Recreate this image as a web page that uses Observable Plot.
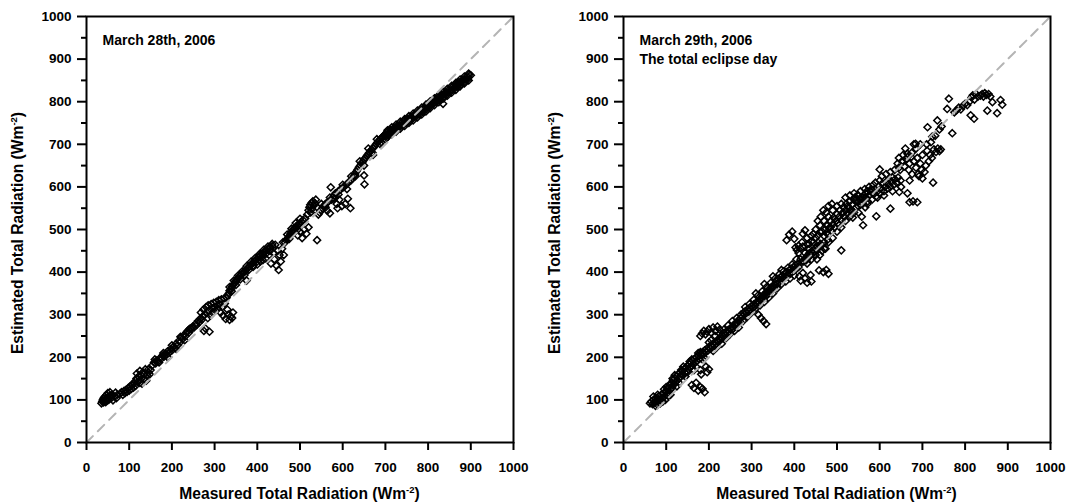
<!DOCTYPE html>
<html><head><meta charset="utf-8">
<script src="https://cdn.jsdelivr.net/npm/d3@7"></script>
<script src="https://cdn.jsdelivr.net/npm/@observablehq/plot@0.6"></script>
<style>
body{margin:0;background:#fff;}
#wrap{display:flex;width:1067px;height:503px;overflow:hidden;}
</style></head><body><div id="wrap"></div>
<script>
const xTicks = [0,100,200,300,400,500,600,700,800,900,1000];
const yTicks = [0,100,200,300,400,500,600,700,800,900,1000];
const yMinorTicks = [50,150,250,350,450,550,650,750,850,950];
const xLabel = "Measured Total Radiation (Wm";
const yLabel = "Estimated Total Radiation (Wm";
const unitSup = "-2";
const notes28 = ["March 28th, 2006"];
const notes29 = ["March 29th, 2006", "The total eclipse day"];
const oneToOne = [[0,0],[1000,1000]];

// March 28th, 2006 : [measured, estimated]
const march28 = [
[35,92],[37,96],[38,100],[40,94],[40,104],[42,98],[43,108],[45,95],[45,102],[47,112],[48,98],[50,105],[50,116],[52,100],[55,110],[55,118],[58,104],[60,112],[62,99],[65,108],[68,117],[70,104],[72,112],
[78,114],[82,118],[85,112],[88,121],[90,116],[93,124],[95,119],[98,128],[100,122],[102,131],[105,126],[108,135],[110,129],[112,140],[115,133],[117,150],[118,162],[120,142],[122,155],[125,168],[126,147],[128,158],[130,138],[132,165],[135,150],[138,172],[140,145],[142,158],[145,165],[148,160],[150,170],
[105,135],[115,145],[125,140],[135,160],[145,172],[160,195],[170,188],[180,210],[190,200],[200,228],[210,220],[220,248],[230,240],[240,265],
[155,182],[158,188],[162,186],[165,193],[168,190],[172,198],[175,196],[178,204],[182,202],[185,209],[188,206],[190,214],[195,212],[198,220],[200,216],[204,225],[207,222],[210,232],[213,228],[216,238],[220,236],[222,246],[225,243],[228,252],[231,249],[234,258],[237,262],[240,258],[243,268],
[246,266],[249,272],[252,270],[255,278],[258,276],[261,285],[264,282],[266,290],[268,305],[270,288],[272,296],[274,312],[275,262],[277,300],[278,268],[280,318],[282,305],[284,292],[285,322],[287,310],[288,260],[290,298],[292,325],[294,315],[296,304],[298,328],[300,318],[302,310],[304,330],[306,322],[308,314],[310,334],[312,325],[314,305],[316,336],[318,318],[320,298],[322,338],[324,326],[326,290],[328,340],[330,312],[332,300],[335,288],[338,296],[341,292],[343,305],
[330,345],[333,350],[335,356],[338,360],[340,365],[343,369],[345,372],[348,376],[350,380],[353,383],[355,386],[358,389],[360,392],[363,395],[366,398],
[335,365],[345,380],[355,392],[365,402],[375,414],[385,424],[395,433],[405,442],[415,452],[425,460],[435,466],[340,355],[350,370],[360,383],[370,393],[380,405],[390,415],[400,425],[410,434],[420,443],[430,450],
[370,400],[373,404],[375,380],[376,408],[379,411],[382,414],[385,417],[388,420],[390,412],[392,424],[395,427],[398,430],[400,418],[402,434],[405,437],[407,425],[408,440],[411,443],[413,428],[415,446],[418,449],[420,432],[422,452],[425,455],[428,440],[430,458],[432,420],[435,461],[438,445],[440,430],[442,464],[445,415],[448,450],[450,405],[452,440],[455,425],[458,455],[460,470],[462,440],
[465,470],[468,474],[470,478],[473,482],[476,486],[478,490],[480,494],[483,497],[485,501],[488,503],[490,506],[493,509],[495,486],[497,512],[500,495],[500,515],[503,518],[505,480],[507,522],[510,500],[512,526],[515,490],[517,535],[520,505],[520,545],[522,552],[524,558],[525,540],[527,562],[528,548],[530,566],[532,556],[535,562],[537,570],[540,475],[540,552],
[470,488],[480,502],[490,515],[500,525],[475,478],[485,492],[495,500],
[543,535],[546,540],[549,545],[552,550],[555,554],[558,558],[561,561],[564,544],[566,565],[570,538],[572,599],[574,570],[577,575],[580,580],[583,585],[586,560],[588,550],[590,590],[592,570],[595,594],[598,555],[600,598],[603,600],[606,560],[609,606],[612,572],[615,612],[618,550],[620,616],
[550,560],[560,552],[570,575],[580,572],[590,582],[600,605],[610,595],[620,625],[630,625],[640,660],[650,650],[660,690],[670,680],[680,712],[690,705],
[623,620],[626,625],[629,630],[632,636],[635,641],[638,646],[641,650],[644,655],[647,659],[650,627],[651,606],[650,664],[653,668],[656,672],[659,676],[662,680],[665,684],[668,688],[671,675],[672,692],[675,696],[678,700],[681,704],[684,708],[687,701],[688,712],[691,715],[694,718],[697,721],[700,712],[700,724],
[700,718],[704,729],[708,723],[712,734],[716,728],[720,739],[724,734],[728,744],[732,739],[736,749],[740,744],[744,755],[748,749],[752,760],[756,754],[760,765],[764,760],[768,770],[772,765],[776,775],[780,770],[784,781],[788,776],[792,787],[796,782],[800,793],[804,788],[808,799],[812,794],[816,805],[820,800],[824,810],[828,805],[832,816],[836,811],[840,822],[844,817],[848,828],[852,823],[856,834],[860,829],[864,840],[868,835],[872,846],[876,840],[880,851],[884,846],[888,857],[892,852],[896,863],[900,862],
[702,723],[710,728],[718,734],[726,739],[734,744],[742,749],[750,754],[758,760],[766,765],[774,770],[782,776],[790,782],[798,788],[806,793],[814,799],[822,805],[830,811],[838,817],[846,822],[854,828],[862,834],[870,840],[878,846],[886,852],[894,857],[835,795],
[705,733],[715,740],[725,746],[735,753],[745,759],[755,766],[765,772],[775,779],[785,786],[795,793],[805,801],[815,808],[825,815],[835,823],[845,830],[855,837],[865,844],[875,852],[885,859],[895,866],
[705,717],[715,724],[725,730],[735,737],[745,743],[755,750],[765,756],[775,763],[785,770],[795,777],[805,785],[815,792],[825,799],[835,807],[845,814],[855,821],[865,828],[875,836],[885,843],[895,850]
];

// March 29th, 2006 (total eclipse day) : [measured, estimated]
const march29 = [
[62,92],[65,96],[68,90],[70,100],[72,94],[75,86],[76,104],[78,96],[80,88],[82,108],[84,100],[86,92],[88,112],[90,104],[92,96],[94,116],[96,108],[98,100],
[100,120],[102,112],[104,128],[106,118],[108,134],[110,124],[112,140],[114,130],[116,146],[118,136],[120,150],[122,142],[124,156],[126,146],[128,160],[130,150],[132,164],[134,155],
[70,108],[80,112],[90,98],[100,130],[110,112],[120,158],[130,140],[140,178],[150,165],[160,195],[170,178],[180,212],[190,198],[200,235],[95,125],[105,110],[115,150],[125,132],[135,170],[145,155],[155,190],[165,170],[175,210],[185,195],
[160,135],[165,128],[170,140],[175,122],[180,130],[185,126],[190,118],
[136,160],[138,168],[140,158],[142,172],[144,164],[146,176],[148,168],[150,180],[152,172],[154,184],[156,176],[158,188],[160,180],[162,192],[164,184],[166,196],[168,188],[170,200],[172,192],[175,204],[178,196],[180,170],[182,160],[193,178],[200,172],[196,165],
[182,206],[185,212],[188,208],[190,216],[193,212],[195,220],[198,216],[200,224],[203,220],[205,228],[208,224],[210,232],[213,228],[215,236],[218,232],[220,240],
[180,250],[184,256],[188,262],[192,254],[196,260],[200,266],[205,258],[210,270],[215,262],[220,272],[225,265],
[222,236],[224,244],[226,240],[228,248],[230,244],[232,252],[234,248],[236,256],[238,252],[240,260],[243,256],[245,264],[248,260],[250,268],[253,264],[255,272],[258,268],[260,278],[263,274],[265,282],[268,278],[270,288],[273,284],[275,292],
[205,240],[210,215],[215,250],[220,225],[225,255],[230,232],[235,265],[240,245],[245,275],[250,255],[255,285],[260,262],[265,292],[270,270],[275,300],[280,285],[285,318],[290,295],[295,325],[300,305],
[278,296],[280,304],[283,300],[285,308],[288,304],[290,312],[293,308],[295,316],[298,312],[300,320],[303,316],[305,324],[308,320],[310,328],[313,324],[315,332],[318,328],[320,336],[316,300],[322,292],[328,285],[334,278],
[322,340],[324,334],[326,344],[328,338],[330,348],[332,342],[334,352],[336,346],[338,356],[340,350],[342,360],[344,354],[346,364],[348,358],[350,368],[352,362],
[305,335],[310,315],[315,345],[320,322],[325,355],[330,330],[335,365],[340,340],[345,375],[350,350],[355,385],[360,362],[365,395],[370,372],[375,402],[380,378],[385,410],[390,385],[395,418],[400,392],[310,350],[330,372],[350,390],[370,405],
[355,370],[358,378],[360,372],[362,384],[365,376],[368,388],[370,380],[372,392],[375,384],[378,396],[380,388],[382,400],[385,392],[388,404],[390,396],[392,408],[395,400],[398,412],[400,404],[403,416],[405,408],[408,420],[410,412],[412,390],[415,380],[418,424],[420,398],[425,385],[430,375],[438,393],[440,378],
[422,425],[425,432],[428,428],[430,438],[433,434],[435,444],[438,440],[440,448],[443,444],[445,452],[448,448],[450,456],[453,430],[455,460],[458,404],[460,440],[462,466],[465,450],[468,400],[470,470],[473,455],[475,405],[478,476],[480,396],
[382,475],[388,488],[395,495],[400,478],[403,458],[406,452],[410,462],[414,456],[418,470],[420,490],[425,498],[430,480],[435,466],[440,472],[445,490],[450,500],[455,486],[460,494],
[470,485],[472,500],[475,492],[478,510],[480,488],[482,504],[485,520],[487,496],[490,512],[492,528],[495,505],[497,520],[500,536],[502,515],[505,530],[507,545],[510,451],[510,522],[512,538],[515,552],[517,530],[520,545],[522,560],[525,538],[527,552],[530,566],[532,545],[535,558],[537,528],[540,570],[543,576],[545,552],[548,565],[550,540],[553,572],[555,558],[558,530],[561,510],[563,568],[566,552],[568,575],[571,560],
[455,520],[462,530],[468,545],[475,540],[480,555],[488,560],
[405,430],[410,445],[415,430],[420,460],[425,445],[430,465],[435,455],[440,485],[445,470],[450,480],[455,470],[460,510],[465,495],[470,520],[475,510],[480,530],[485,505],[490,545],[495,525],[500,555],[505,510],[510,560],[515,540],[520,575],[525,555],[530,580],[535,540],[540,585],[545,570],[550,580],[555,590],[560,575],[565,595],[570,590],[575,600],[580,595],[585,605],[590,610],[595,575],[600,615],[430,420],[440,430],[450,440],[460,460],[470,455],[480,470],[490,480],[500,495],[510,505],[520,520],[530,530],[540,540],[550,555],[560,560],
[565,575],[568,585],[572,566],[575,580],[578,590],[582,570],[585,584],[588,595],[592,531],[592,578],[595,590],[598,602],[600,641],[600,584],[603,596],[606,608],[610,590],[612,600],[615,612],[618,596],[620,606],[622,618],[625,549],[625,600],[628,612],[630,622],[633,605],[636,618],[640,610],[643,622],[646,588],[649,615],[665,585],[670,564],[678,566],[688,564],
[642,655],[645,668],[648,640],[652,660],[655,675],[658,648],[662,665],[665,678],[668,640],[670,655],[674,670],[676,630],[680,660],[684,701],[685,645],[688,668],[692,625],[695,655],[698,640],[700,620],[705,635],[708,650],[711,685],[715,660],[718,675],[722,668],[725,610],[727,688],[732,682],[736,690],[740,684],[743,688],
[605,625],[615,630],[625,635],[635,640],[645,645],[655,660],[665,670],[675,680],[685,690],[695,700],[610,580],[630,590],[650,600],[670,615],[690,630],[710,700],[720,705],[730,720],[740,735],[700,675],[660,690],[680,700],
[712,740],[723,718],[735,756],[745,742],[758,783],[762,807],[770,726],[775,775],[780,780],[785,786],[790,782],[795,790],[800,795],[805,792],[810,800],[813,768],[815,810],[818,815],[821,760],[822,805],[826,818],[830,812],[836,814],[840,818],[843,812],[846,820],[850,816],[852,779],[855,818],[859,812],[864,799],[875,773],[883,804],[887,793]
];

const FONT = "'Liberation Sans', Arial, sans-serif";

function panel(data, notes, width, mLeft, mRight, yLabelX) {
  const svg = Plot.plot({
    width, height: 503,
    marginLeft: mLeft, marginRight: mRight, marginTop: 16, marginBottom: 61,
    x: {domain: [0, 1000]},
    y: {domain: [0, 1000]},
    style: {fontFamily: FONT, fontWeight: "bold", fontSize: "13.5px", color: "#000", background: "#fff", overflow: "visible"},
    marks: [
      Plot.dot(data, {x: d => d[0], y: d => d[1], symbol: "diamond2", r: 3.2, stroke: "#000", strokeWidth: 1.5, fill: "none"}),
      Plot.line(oneToOne, {stroke: "#b4b4b4", strokeWidth: 2, strokeDasharray: "9,7"}),
      Plot.axisX(xTicks, {tickSize: 8, tickPadding: 12, strokeWidth: 2, tickFormat: d => String(d), label: null}),
      Plot.axisY(yTicks, {tickSize: 9, tickPadding: 6, strokeWidth: 2, tickFormat: d => String(d), label: null}),
      Plot.axisY(yMinorTicks, {tickSize: 5, strokeWidth: 2, tickFormat: () => "", label: null}),
      Plot.frame({stroke: "#000", strokeWidth: 2}),
      Plot.text([notes.join("\n")], {frameAnchor: "top-left", text: d => d, dx: 16, dy: 15, lineAnchor: "top", textAnchor: "start", fontSize: 14, lineHeight: 1.36})
    ]
  });
  const s = d3.select(svg);
  const plotCx = mLeft + (width - mLeft - mRight) / 2;
  const xl = s.append("text").attr("x", plotCx).attr("y", 499).attr("text-anchor", "middle")
    .attr("font-family", FONT).attr("font-weight", "bold").attr("font-size", 15.6).attr("fill", "#000");
  xl.append("tspan").text(xLabel);
  xl.append("tspan").attr("dy", -6).attr("font-size", 9.5).text(unitSup);
  xl.append("tspan").attr("dy", 6).text(")");
  const yl = s.append("text").attr("transform", `translate(${yLabelX},233) rotate(-90)`).attr("text-anchor", "middle")
    .attr("font-family", FONT).attr("font-weight", "bold").attr("font-size", 15.6).attr("fill", "#000");
  yl.append("tspan").text(yLabel);
  yl.append("tspan").attr("dy", -6).attr("font-size", 9.5).text(unitSup);
  yl.append("tspan").attr("dy", 6).text(")");
  return svg;
}

const wrap = document.getElementById("wrap");
wrap.appendChild(panel(march28, notes28, 534, 86, 21, 23));
wrap.appendChild(panel(march29, notes29, 533, 89, 17, 26));
</script></body></html>
